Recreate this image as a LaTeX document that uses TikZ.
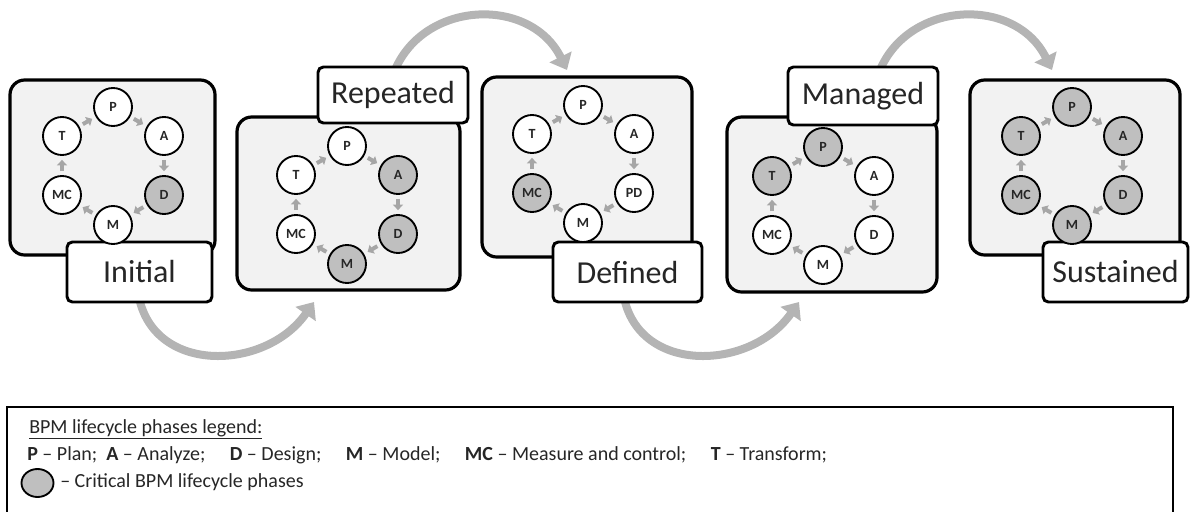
\documentclass[tikz,border=0pt]{standalone}
\usepackage{fontspec}
\setmainfont{Carlito}
\usetikzlibrary{arrows.meta,calc,shapes.geometric}

\definecolor{panelgray}{HTML}{F2F2F2}
\definecolor{critgray}{HTML}{BFBFBF}
\definecolor{flowgray}{HTML}{B4B4B4}
\definecolor{ringgray}{HTML}{A6A6A6}
\definecolor{inkgray}{HTML}{262626}

\tikzset{
  stagebox/.style={draw, line width=2.4pt, rounded corners=11pt, fill=panelgray, inner sep=0pt},
  stagelabel/.style={draw, line width=2.2pt, rounded corners=4pt, fill=white, inner sep=0pt,
    font=\fontsize{24}{27}\selectfont, text=inkgray},
  phase/.style={circle, draw, line width=1.4pt, fill=white, minimum size=28.5pt, inner sep=0pt,
    font=\fontsize{10.5}{11}\selectfont\bfseries, text=inkgray},
  critical/.style={phase, fill=critgray},
  ringstep/.style={draw=ringgray, line width=3pt, -{Triangle[length=4pt,width=7.5pt]},
    shorten <=3pt, shorten >=3pt},
  flowarrow/.style={draw=flowgray, line width=6pt, -{Triangle[length=11pt,width=18pt]}},
  legendtext/.style={inner sep=0pt, font=\fontsize{15}{18}\selectfont, text=inkgray},
}

% One lifecycle ring: #1 name prefix, #2 centre, #3-#8 styles of P, A, D, M, MC, T,
% #9 text of the design phase
\newcommand\phasering[9]{%
  \node[#3] (#1P)  at ($(#2)+(0,-59)$)  {P};
  \node[#4] (#1A)  at ($(#2)+(51,-30)$) {A};
  \node[#5] (#1D)  at ($(#2)+(51,29)$)  {#9};
  \node[#6] (#1M)  at ($(#2)+(0,59)$)   {M};
  \node[#7] (#1MC) at ($(#2)+(-51,29)$) {MC};
  \node[#8] (#1T)  at ($(#2)+(-51,-30)$) {T};
  \foreach \a/\b in {P/A,A/D,D/M,M/MC,MC/T,T/P}
    \draw[ringstep] (#1\a) -- (#1\b);
}

\begin{document}
\begin{tikzpicture}[x=0.75pt,y=-0.75pt]
\useasboundingbox (0,0) rectangle (1192,511);

% anchor points of the large transition arrows
\coordinate (f1s) at (138,292);  \coordinate (f1e) at (314,302);
\coordinate (f2s) at (393,75);   \coordinate (f2e) at (567,70);
\coordinate (f3s) at (623,292);  \coordinate (f3e) at (799,302);
\coordinate (f4s) at (878,75);   \coordinate (f4e) at (1052,70);

% transitions between maturity levels
\draw[flowarrow] (f1s) .. controls (150,375) and (265,372) .. (f1e);
\draw[flowarrow] (f2s) .. controls (420,0) and (530,-5) .. (f2e);
\draw[flowarrow] (f3s) .. controls (635,375) and (750,372) .. (f3e);
\draw[flowarrow] (f4s) .. controls (905,0) and (1015,-5) .. (f4e);

% stage panels
\node[stagebox, minimum width=153.75pt, minimum height=131.25pt] (s1) at (112.5,167.5) {};
\node[stagebox, minimum width=167.25pt, minimum height=129.75pt] (s2) at (348.5,203.5) {};
\node[stagebox, minimum width=157.5pt,  minimum height=135pt]    (s3) at (587,167) {};
\node[stagebox, minimum width=157.5pt,  minimum height=131.25pt] (s4) at (832,204.5) {};
\node[stagebox, minimum width=157.5pt,  minimum height=131.25pt] (s5) at (1075,167.5) {};

% stage names
\node[stagelabel, minimum width=108.75pt, minimum height=45pt] (l1) at (139.5,272) {Initial};
\node[stagelabel, minimum width=112.5pt,  minimum height=42pt] (l2) at (393,95)    {Repeated};
\node[stagelabel, minimum width=111.75pt, minimum height=45pt] (l3) at (627.5,272) {Defined};
\node[stagelabel, minimum width=112.5pt,  minimum height=43.5pt] (l4) at (863,96)  {Managed};
\node[stagelabel, minimum width=108.75pt, minimum height=45pt] (l5) at (1115.5,272) {Sustained};

% lifecycle rings
\coordinate (c1) at (113,166);
\coordinate (c2) at (347,205);
\coordinate (c3) at (583,164);
\coordinate (c4) at (823,206);
\coordinate (c5) at (1072,166);
\phasering{r1}{c1}{phase}{phase}{critical}{phase}{phase}{phase}{D}
\phasering{r2}{c2}{phase}{critical}{critical}{critical}{phase}{phase}{D}
\phasering{r3}{c3}{phase}{phase}{phase}{phase}{critical}{phase}{PD}
\phasering{r4}{c4}{critical}{phase}{phase}{phase}{phase}{critical}{D}
\phasering{r5}{c5}{critical}{critical}{critical}{critical}{critical}{critical}{D}

% legend
\draw[line width=1.3pt] (7,514) |- (1173,407) -- (1173,514);
\node[legendtext, anchor=base west] (lg1) at (29,433) {\underline{BPM lifecycle phases legend:}};
\node[legendtext, anchor=base west] (lg2) at (27,460)
  {\textbf{P} – Plan;\ \ \textbf{A} – Analyze;\quad\ \textbf{D} – Design;\quad\ \textbf{M} – Model;\quad\ \textbf{MC} – Measure and control;\quad\ \textbf{T} – Transform;};
\node[ellipse, draw, line width=1.4pt, fill=critgray, minimum width=24pt, minimum height=21pt, inner sep=0pt] (lgc) at (37.5,483) {};
\node[legendtext, anchor=base west] (lg3) at (60,487) {– Critical BPM lifecycle phases};
\end{tikzpicture}
\end{document}
